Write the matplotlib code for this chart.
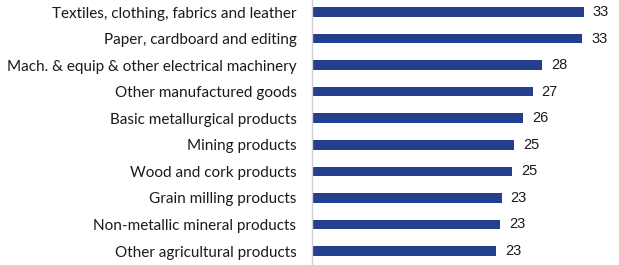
import matplotlib.pyplot as plt

categories = [
    'Textiles, clothing, fabrics and leather',
    'Paper, cardboard and editing',
    'Mach. & equip & other electrical machinery',
    'Other manufactured goods',
    'Basic metallurgical products',
    'Mining products',
    'Wood and cork products',
    'Grain milling products',
    'Non-metallic mineral products',
    'Other agricultural products',
]
values = [33.4, 33.2, 28.3, 27.1, 25.9, 24.8, 24.6, 23.3, 23.1, 22.6]

fig = plt.figure(figsize=(6.19, 2.65), dpi=100)
ax = fig.add_axes([311.7 / 619, 0, 1 - 311.7 / 619, 1])

pos = list(range(len(categories)))
ax.barh(pos, values, height=0.36, color='#243F8D')

for p, v in zip(pos, values):
    ax.text(v + 1.1, p, f'{v:.0f}', va='center', ha='left',
            fontsize=10.5, family='Liberation Sans', color='#1a1a1a')

ax.set_yticks(pos)
ax.set_yticklabels(categories, fontsize=11, family='Lato', color='#1a1a1a')
ax.tick_params(axis='y', length=0, pad=11)
ax.set_xticks([])
ax.set_xlim(0, 37.7)
ax.set_ylim(9.527, -0.452)

for s in ['top', 'right', 'bottom']:
    ax.spines[s].set_visible(False)
ax.spines['left'].set_color('#d0d0d0')
ax.spines['left'].set_linewidth(1)

fig.savefig('out.png', dpi=100)
